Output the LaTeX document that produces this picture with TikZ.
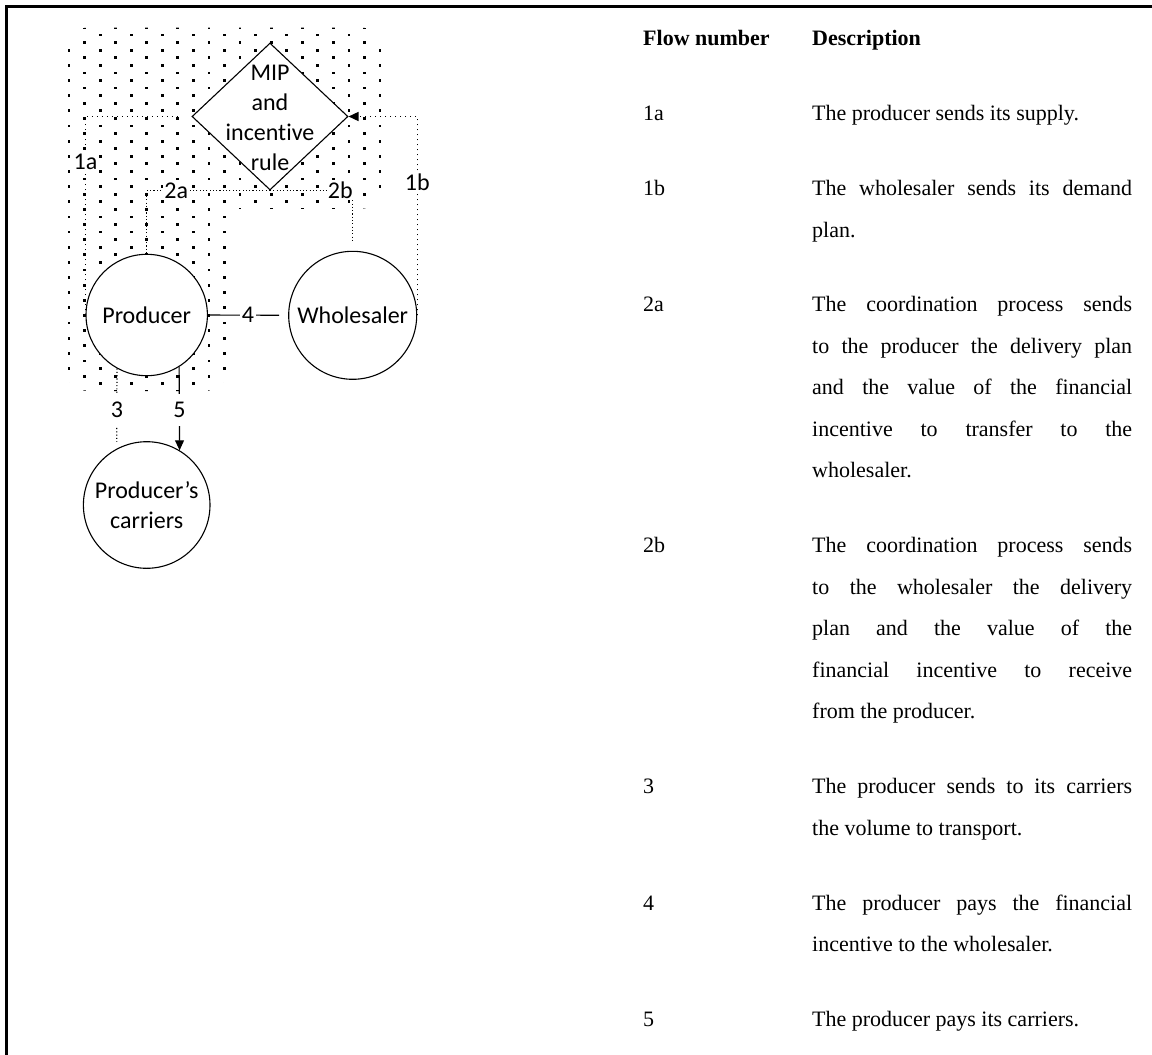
\documentclass[tikz,border=0pt]{standalone}
\usepackage{fontspec}
\setmainfont{Liberation Serif}
\newfontfamily\calib[Ligatures={NoCommon}]{Carlito}
\usetikzlibrary{shapes.geometric,arrows.meta}
\newcommand\fulljust[1]{\makebox[320pt][s]{#1}}
\begin{document}
\begin{tikzpicture}[x=1pt,y=-1pt,
  circ/.style={circle,draw,line width=1.1pt,fill=white,inner sep=0pt,font=\calib\fontsize{24}{30}\selectfont,align=center},
  lbl/.style={font=\calib\fontsize{24}{28}\selectfont,fill=white,inner xsep=1pt,inner ysep=0.5pt},
  sparse/.style={line width=1.5pt,dash pattern=on 1.5pt off 3.5pt},
  dense/.style={line width=1.1pt,dash pattern=on 1.1pt off 2.2pt},
  solidc/.style={line width=1.1pt},
  tip/.style={-{Triangle[length=10pt,width=9pt]}},
  hd/.style={anchor=base west,inner sep=0pt,font=\fontsize{22}{26}\selectfont\bfseries},
  tx/.style={anchor=base west,inner sep=0pt,font=\fontsize{22}{26}\selectfont}]

\useasboundingbox (0,0) rectangle (1152,1055);

% frame
\draw[line width=2.7pt] (6.3,1055) -- (6.3,6.3) -- (1152,6.3);

% dotted background region
\begin{scope}
\clip[rounded corners=25pt] (64,27.5) rectangle (385,208.8) (64,27.5) rectangle (229,391);
\foreach \i in {0,...,20}{
  \foreach \j in {-1,...,47}{
    \pgfmathparse{int(mod(\i+\j+2,2))}
    \ifnum\pgfmathresult=0
      \fill (69+15.55*\i-1.4, 35+7.58*\j-1.4) rectangle ++(2.8,2.8);
    \fi
  }
}
\end{scope}

% shapes
\node[diamond,draw,line width=1.1pt,fill=white,minimum width=156pt,minimum height=147pt,inner sep=0pt] (mip) at (270,116.5) {};
\node[font=\calib\fontsize{24}{30}\selectfont,align=center,inner sep=0pt] (miptext) at (270,118) {MIP\\and\\incentive\\rule};
\node[circ,minimum size=121.4pt] (prod) at (146.7,315) {Producer};
\node[circ,minimum size=128pt] (whole) at (352.7,315.3) {Wholesaler};
\node[circ,minimum size=126.6pt] (carr) at (146.7,505) {Producer’s\\carriers};

% connectors
\draw[sparse] (prod.west) -- node[lbl,pos=0.77]{1a} (prod.west |- mip.west) -- ([xshift=-12pt]mip.west);
\draw[sparse,tip] (whole.east) -- node[lbl,pos=0.67]{1b} (whole.east |- mip.east) -- (mip.east);
\draw[dense] (mip.south) -- node[lbl,pos=0.76]{2a} (prod.north |- mip.south) -- (prod.north);
\draw[dense,shorten >=9pt] (mip.south) -- node[lbl,pos=0.85]{2b} (whole.north |- mip.south) -- (whole.north);
\draw[solidc,shorten >=9pt] (prod.east) -- node[lbl,inner xsep=2pt]{4} (whole.west);
\draw[dense,shorten >=7pt] (prod.241) -- node[lbl,pos=0.52,inner ysep=8pt]{3} (carr.118);
\draw[solidc,tip] (prod.302) -- node[lbl,pos=0.52,inner ysep=8pt]{5} (carr.59.3);

% table
\node[hd] (h1) at (643,45.5) {Flow number};
\node[hd] (h2) at (812,45.5) {Description};

\node[tx] (n1a) at (643,120.5) {1a};
\node[tx] (d1a) at (812,120.5) {The producer sends its supply.};

\node[tx] (n1b) at (643,195.5) {1b};
\node[tx] (d1b1) at (812,195.5) {\fulljust{The wholesaler sends its demand}};
\node[tx] (d1b2) at (812,237) {plan.};

\node[tx] (n2a) at (643,311.5) {2a};
\node[tx] (d2a1) at (812,311.5) {\fulljust{The coordination process sends}};
\node[tx] (d2a2) at (812,353) {\fulljust{to the producer the delivery plan}};
\node[tx] (d2a3) at (812,394.5) {\fulljust{and the value of the financial}};
\node[tx] (d2a4) at (812,436) {\fulljust{incentive to transfer to the}};
\node[tx] (d2a5) at (812,477.5) {wholesaler.};

\node[tx] (n2b) at (643,552.5) {2b};
\node[tx] (d2b1) at (812,552.5) {\fulljust{The coordination process sends}};
\node[tx] (d2b2) at (812,594) {\fulljust{to the wholesaler the delivery}};
\node[tx] (d2b3) at (812,635.5) {\fulljust{plan and the value of the}};
\node[tx] (d2b4) at (812,677) {\fulljust{financial incentive to receive}};
\node[tx] (d2b5) at (812,718.5) {from the producer.};

\node[tx] (n3) at (643,793.5) {3};
\node[tx] (d31) at (812,793.5) {\fulljust{The producer sends to its carriers}};
\node[tx] (d32) at (812,835) {the volume to transport.};

\node[tx] (n4) at (643,910) {4};
\node[tx] (d41) at (812,910) {\fulljust{The producer pays the financial}};
\node[tx] (d42) at (812,951.5) {incentive to the wholesaler.};

\node[tx] (n5) at (643,1026.5) {5};
\node[tx] (d5) at (812,1026.5) {The producer pays its carriers.};
\end{tikzpicture}
\end{document}
